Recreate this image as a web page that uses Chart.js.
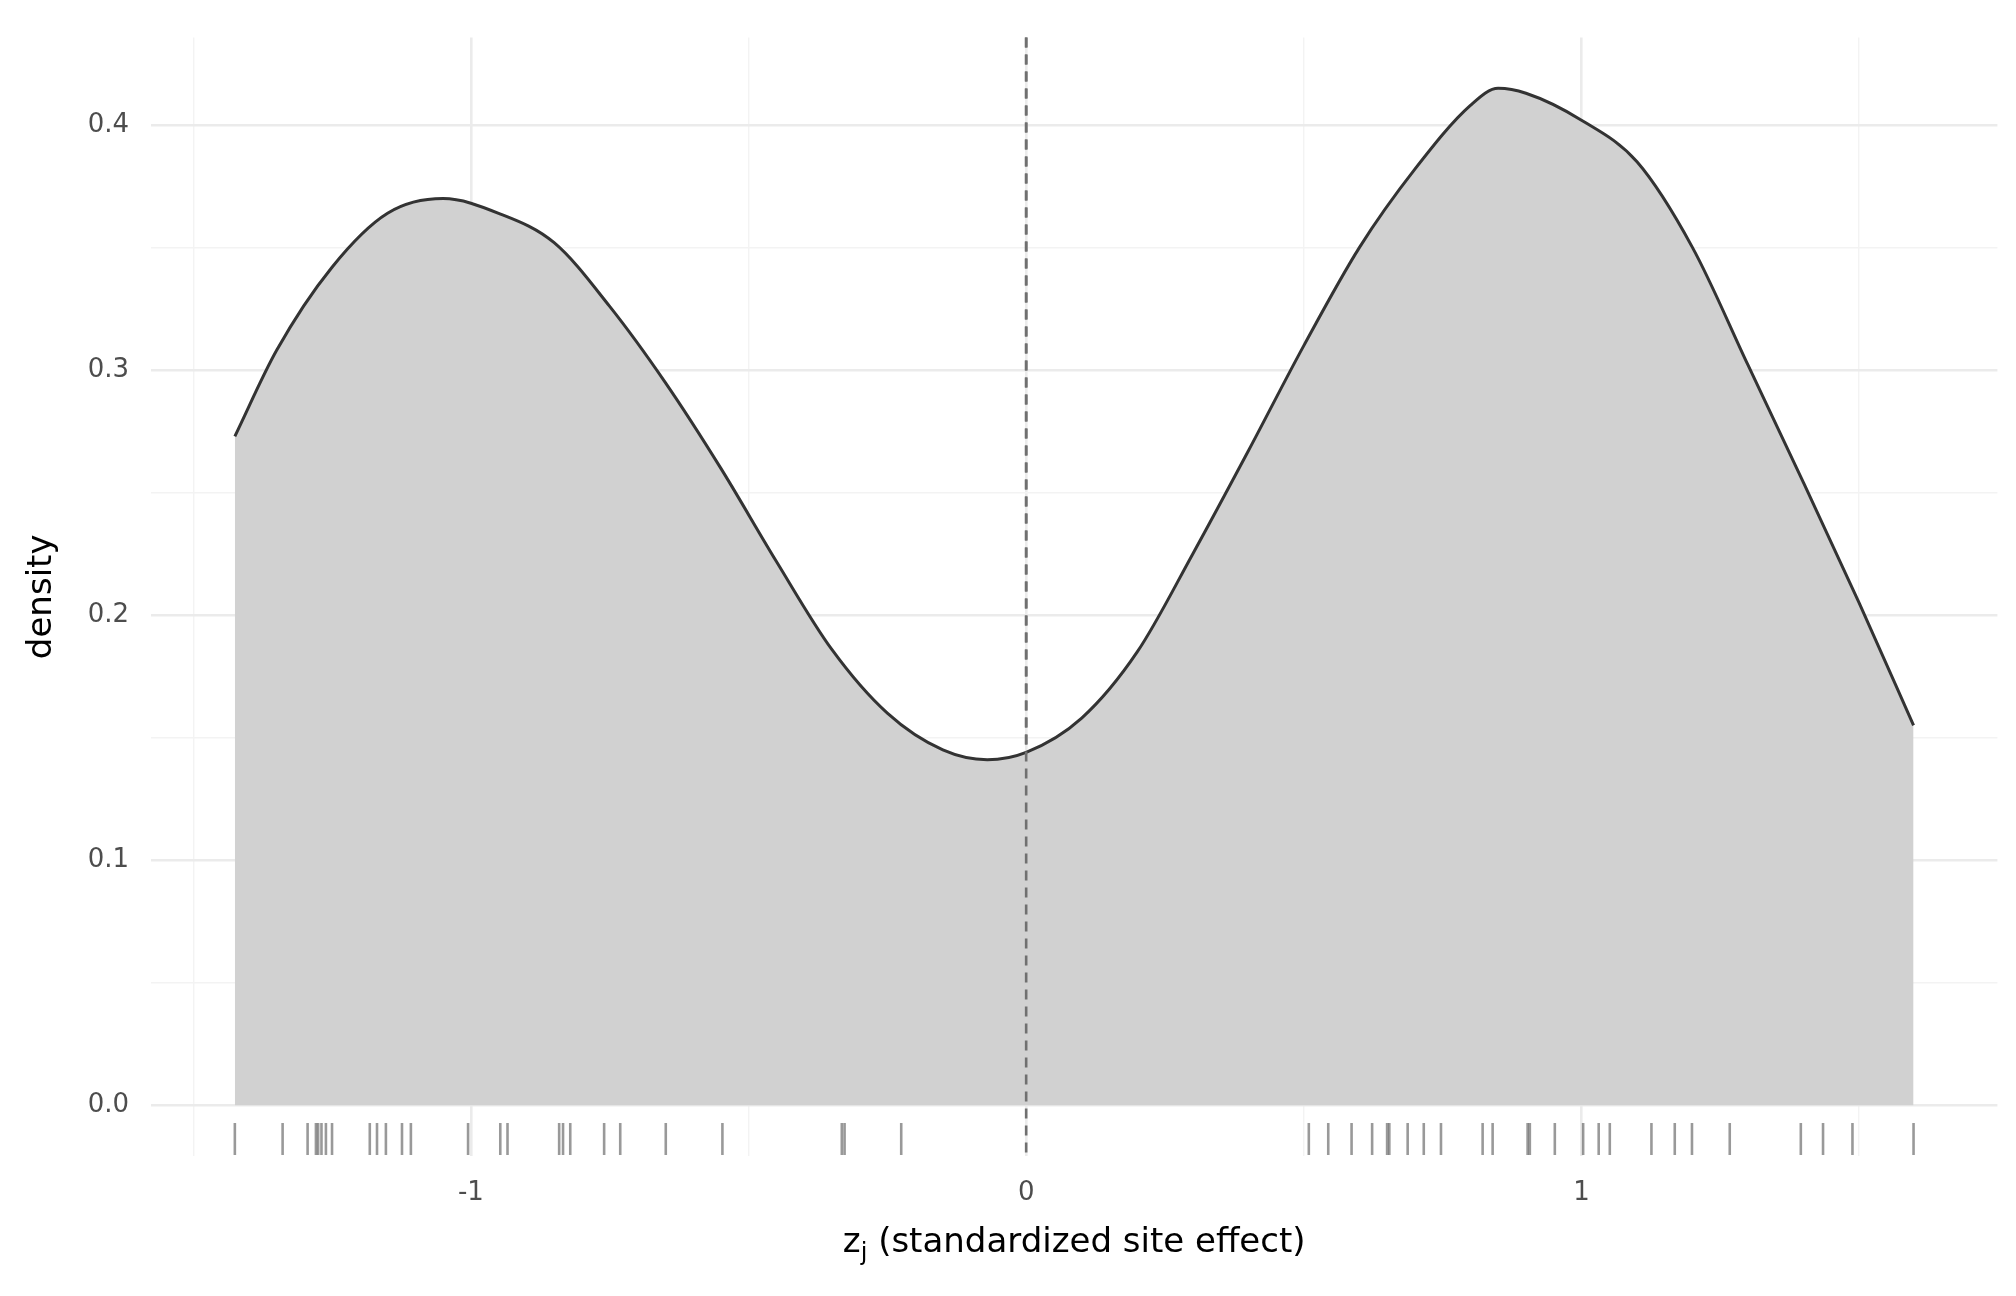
<!DOCTYPE html>
<html><head><meta charset="utf-8">
<script src="https://cdn.jsdelivr.net/npm/chart.js@4"></script>
<style>html,body{margin:0;padding:0;background:#fff}#w{width:2016px;height:1296px}</style>
</head><body><div id="w"><canvas id="c"></canvas></div>
<script>
const densityX = [-1.425,-1.35,-1.25,-1.15,-1.05,-0.95,-0.85,-0.75,-0.65,-0.55,-0.45,-0.35,-0.25,-0.15,-0.07,0.0,0.1,0.2,0.3,0.4,0.5,0.6,0.7,0.8,0.85,0.9,1.0,1.1,1.2,1.3,1.4,1.5,1.598];
const densityY = [0.273,0.308,0.342,0.364,0.370,0.364,0.352,0.326,0.295,0.260,0.222,0.186,0.160,0.145,0.141,0.144,0.158,0.185,0.225,0.267,0.310,0.350,0.382,0.408,0.415,0.413,0.402,0.385,0.350,0.302,0.254,0.205,0.155];
const rugX = [-1.425,-1.339,-1.294,-1.279,-1.275,-1.269,-1.261,-1.250,-1.182,-1.169,-1.153,-1.124,-1.108,-1.005,-0.947,-0.934,-0.841,-0.834,-0.821,-0.760,-0.731,-0.649,-0.547,-0.332,-0.327,-0.225,
 0.509,0.544,0.586,0.623,0.650,0.654,0.687,0.716,0.747,0.822,0.840,0.903,0.907,0.952,1.003,1.031,1.051,1.126,1.168,1.199,1.267,1.395,1.435,1.488,1.598];
const xTicks = [-1.5,-1,-0.5,0,0.5,1,1.5];
const yTicks = [0,0.05,0.1,0.15,0.2,0.25,0.3,0.35,0.4];

const F = 'DejaVu Sans';
const extras = {
  id:'extras',
  beforeDatasetsDraw(ch){
    const {ctx, chartArea:a, scales:{x}} = ch;
    const px = x.getPixelForValue(0);
    ctx.save(); ctx.strokeStyle='#707070'; ctx.lineWidth=2.6; ctx.setLineDash([10,7]);
    ctx.beginPath(); ctx.moveTo(px,a.top); ctx.lineTo(px,a.bottom); ctx.stroke(); ctx.restore();
  },
  afterDatasetsDraw(ch){
    const {ctx, chartArea:a, scales:{x}} = ch;
    const px = x.getPixelForValue(0);
    ctx.save(); ctx.strokeStyle='#707070'; ctx.lineWidth=2.6; ctx.setLineDash([10,7]);
    ctx.beginPath(); ctx.moveTo(px,a.top); ctx.lineTo(px,x.getPixelForValue(0)?ch.scales.y.getPixelForValue(0):a.bottom); ctx.stroke(); ctx.restore();
  },
  afterDraw(ch){
    const {ctx, chartArea:a} = ch;
    ctx.save(); ctx.fillStyle='#000';
    ctx.font='34px '+F; ctx.textBaseline='alphabetic';
    const t1='z', t2=' (standardized site effect)';
    ctx.font='34px '+F; const w1=ctx.measureText(t1).width, w3=ctx.measureText(t2).width;
    ctx.font='24px '+F; const w2=ctx.measureText('j').width;
    const cx=(a.left+a.right)/2, start=cx-(w1+w2+w3)/2, by=1252;
    ctx.font='34px '+F; ctx.textAlign='left'; ctx.fillText(t1,start,by);
    ctx.font='24px '+F; ctx.fillText('j',start+w1,by+8);
    ctx.font='34px '+F; ctx.fillText(t2,start+w1+w2,by);
    ctx.translate(42,(a.top+a.bottom)/2); ctx.rotate(-Math.PI/2);
    ctx.textAlign='center'; ctx.textBaseline='middle'; ctx.fillText('density',0,0);
    ctx.restore();
  }
};

new Chart(document.getElementById('c'),{
  type:'scatter',
  data:{datasets:[
    {data:densityX.map((v,i)=>({x:v,y:densityY[i]})),showLine:true,tension:0.4,cubicInterpolationMode:'monotone',
     borderColor:'#333333',borderWidth:3,pointRadius:0,fill:'origin',backgroundColor:'#d1d1d1'},
    {data:rugX.map(v=>({x:v,y:-0.0138})),pointStyle:'line',rotation:90,radius:16,pointRadius:16,
     borderColor:'rgba(0,0,0,0.4)',borderWidth:2.6,backgroundColor:'rgba(0,0,0,0)'}
  ]},
  options:{
    responsive:true,maintainAspectRatio:false,animation:false,
    layout:{padding:{top:22,right:13,left:0,bottom:0}},
    plugins:{legend:{display:false},tooltip:{enabled:false}},
    scales:{
      x:{type:'linear',min:-1.576,max:1.749,
        afterBuildTicks(s){s.ticks=xTicks.map(v=>({value:v}));},
        afterFit(s){s.height=140;},
        border:{display:false},
        grid:{drawTicks:false,color:c=>Number.isInteger(c.tick.value)?'#ebebeb':'#f3f3f3',lineWidth:c=>Number.isInteger(c.tick.value)?2.6:1.4},
        ticks:{padding:22,font:{family:F,size:26},color:'#4d4d4d',maxRotation:0,autoSkip:false,
          callback:v=>Number.isInteger(v)?String(v):''}},
      y:{type:'linear',min:-0.0207,max:0.4357,
        afterBuildTicks(s){s.ticks=yTicks.map(v=>({value:v}));},
        afterFit(s){s.width=151;},
        border:{display:false},
        grid:{drawTicks:false,color:c=>Math.abs(c.tick.value*10-Math.round(c.tick.value*10))<1e-6?'#ebebeb':'#f3f3f3',
          lineWidth:c=>Math.abs(c.tick.value*10-Math.round(c.tick.value*10))<1e-6?2.6:1.4},
        ticks:{padding:22,font:{family:F,size:26},color:'#4d4d4d',autoSkip:false,
          callback:v=>Math.abs(v*10-Math.round(v*10))<1e-6?v.toFixed(1):''}}
    }
  },
  plugins:[extras]
});
</script></body></html>
